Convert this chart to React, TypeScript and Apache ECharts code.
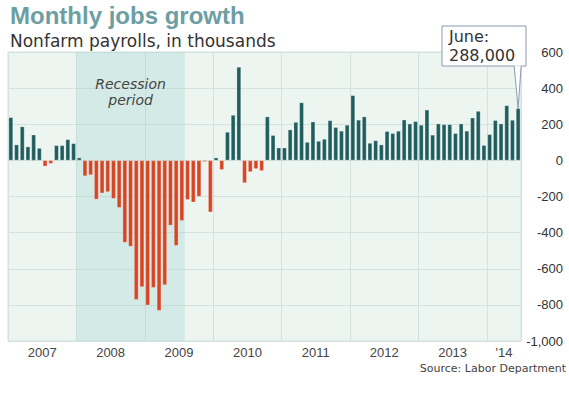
import React, { useEffect, useRef } from 'react';
import * as echarts from 'echarts';

// ---- Data (nonfarm payrolls, monthly change, thousands), Jan 2007 .. Jun 2014 ----
const startYear = 2007;
const jobs = [
  238, 87, 187, 76, 142, 68, -33, -18, 83, 83, 116, 94,
  15, -87, -81, -216, -182, -175, -212, -262, -455, -477, -771, -701,
  -802, -705, -832, -690, -360, -472, -334, -218, -232, -200, -8, -287,
  15, -52, 157, 251, 517, -125, -64, -47, -58, 242, 139, 70,
  70, 170, 212, 320, 101, 214, 107, 118, 221, 183, 163, 196,
  360, 224, 242, 96, 110, 87, 161, 150, 163, 225, 203, 216,
  196, 280, 141, 203, 199, 199, 150, 203, 163, 236, 273, 84,
  144, 222, 203, 304, 224, 288,
];
const yearLabels = ['2007', '2008', '2009', '2010', '2011', '2012', '2013', "'14"];
const recessionStart = '2008-01';
const recessionEnd = '2009-07';
const recessionLabel = 'Recession\nperiod';
const yMin = -1000;
const yMax = 600;
const yStep = 200;
const calloutLines = ['June:', '288,000'];
const titleText = 'Monthly jobs growth';
const subtitleText = 'Nonfarm payrolls, in thousands';
const sourceText = 'Source: Labor Department';

const months = jobs.map(
  (_, i) => `${startYear + Math.floor(i / 12)}-${String((i % 12) + 1).padStart(2, '0')}`
);

// centre of each year's run of months, in category-index units
const yearCenters = yearLabels.map((_, k) => {
  const y = String(startYear + k);
  const idx = months.map((m, i) => (m.startsWith(y) ? i : -1)).filter((i) => i >= 0);
  return (idx[0] + idx[idx.length - 1] + 1) / 2;
});

const TEAL = '#1f5d5e';
const RED = '#d84524';
const GRID = '#d3e2de';
const SANS = '"Liberation Sans", Arial, sans-serif';
const VERD = '"DejaVu Sans", Verdana, sans-serif';

export default function App() {
  const ref = useRef<HTMLDivElement>(null);

  useEffect(() => {
    if (!ref.current) return;
    const chart = echarts.init(ref.current, undefined, { renderer: 'svg' });
    const rsIdx = months.indexOf(recessionStart);
    const reIdx = months.indexOf(recessionEnd) + 1;

    chart.setOption({
      animation: false,
      backgroundColor: '#ffffff',
      grid: {
        left: 8,
        right: 48,
        top: 52,
        bottom: 57,
        show: true,
        backgroundColor: '#edf5f1',
        borderColor: GRID,
        borderWidth: 1,
      },
      xAxis: [
        {
          type: 'category',
          data: months,
          boundaryGap: true,
          axisLine: { show: false },
          axisTick: { show: false },
          axisLabel: { show: false },
          splitLine: {
            show: true,
            interval: (index: number) => index % 12 === 0,
            lineStyle: { color: GRID, width: 1 },
          },
        },
        {
          type: 'value',
          min: 0,
          max: months.length,
          interval: 3,
          position: 'bottom',
          axisLine: { show: false },
          axisTick: { show: false },
          splitLine: { show: false },
          axisLabel: {
            margin: 5,
            fontSize: 13,
            color: '#444',
            fontFamily: SANS,
            formatter: (v: number) => {
              const k = yearCenters.indexOf(v);
              return k >= 0 ? yearLabels[k] : '';
            },
          },
        },
      ],
      yAxis: {
        type: 'value',
        position: 'right',
        min: yMin,
        max: yMax,
        interval: yStep,
        axisLine: { show: false },
        axisTick: { show: false },
        splitLine: { show: true, lineStyle: { color: GRID, width: 1 } },
        axisLabel: {
          margin: 42,
          align: 'right',
          fontSize: 13,
          color: '#333',
          fontFamily: SANS,
          formatter: (v: number) => v.toLocaleString('en-US'),
        },
      },
      series: [
        {
          type: 'line',
          xAxisIndex: 1,
          yAxisIndex: 0,
          data: [],
          z: 1,
          silent: true,
          markArea: {
            silent: true,
            itemStyle: { color: 'rgba(160,210,208,0.32)' },
            label: {
              show: true,
              position: 'insideTop',
              distance: 24,
              formatter: recessionLabel,
              fontSize: 14,
              lineHeight: 16,
              fontStyle: 'italic',
              color: '#444',
              fontFamily: VERD,
            },
            data: [[{ xAxis: rsIdx }, { xAxis: reIdx }]],
          },
        },
        {
          type: 'bar',
          xAxisIndex: 0,
          yAxisIndex: 0,
          z: 3,
          barCategoryGap: '24%',
          data: jobs.map((v) => ({
            value: v,
            itemStyle: {
              color: v >= 0 ? TEAL : RED,
              borderColor: 'rgba(255,255,255,0.55)',
              borderWidth: 0.5,
            },
          })),
        },
      ],
    });

    const last = jobs.length - 1;
    const tip = chart.convertToPixel({ xAxisIndex: 0, yAxisIndex: 0 }, [months[last], jobs[last]]) as number[];
    const bx = 442, by = 26, bw = 84, bh = 40;

    chart.setOption({
      graphic: [
        {
          type: 'text',
          x: 10,
          y: 15,
          style: {
            text: titleText,
            fontSize: 24,
            fontWeight: 'bold',
            fill: '#6c9ea2',
            fontFamily: SANS,
            verticalAlign: 'middle',
            align: 'left',
          },
        },
        {
          type: 'text',
          x: 10,
          y: 41,
          style: {
            text: subtitleText,
            fontSize: 17,
            fill: '#333',
            fontFamily: VERD,
            verticalAlign: 'middle',
            align: 'left',
          },
        },
        {
          type: 'text',
          x: 566,
          y: 368,
          style: {
            text: sourceText,
            fontSize: 11,
            fill: '#444',
            fontFamily: VERD,
            verticalAlign: 'middle',
            align: 'right',
          },
        },
        {
          type: 'rect',
          shape: { x: bx, y: by, width: bw, height: bh },
          style: { fill: '#fff', stroke: '#8c9ab0', lineWidth: 1 },
          z: 100,
        },
        {
          type: 'polygon',
          shape: { points: [[tip[0] - 4, by + bh - 0.5], [tip[0], tip[1]], [tip[0] + 3, by + bh - 0.5]] },
          style: { fill: '#fff', stroke: 'none' },
          z: 101,
        },
        {
          type: 'polyline',
          shape: { points: [[tip[0] - 4, by + bh], [tip[0], tip[1]], [tip[0] + 3, by + bh]] },
          style: { fill: 'none', stroke: '#8c9ab0', lineWidth: 1 },
          z: 102,
        },
        {
          type: 'text',
          x: bx + 7,
          y: by + 10.5,
          z: 103,
          style: {
            text: calloutLines[0],
            fontSize: 16,
            fill: '#333',
            fontFamily: VERD,
            verticalAlign: 'middle',
            align: 'left',
          },
        },
        {
          type: 'text',
          x: bx + 7,
          y: by + 29.5,
          z: 103,
          style: {
            text: calloutLines[1],
            fontSize: 16,
            fill: '#333',
            fontFamily: VERD,
            verticalAlign: 'middle',
            align: 'left',
          },
        },
      ],
    });

    return () => chart.dispose();
  }, []);

  return (
    <div
      ref={ref}
      style={{ position: 'absolute', left: 0, top: 0, width: 569, height: 398 }}
    />
  );
}
